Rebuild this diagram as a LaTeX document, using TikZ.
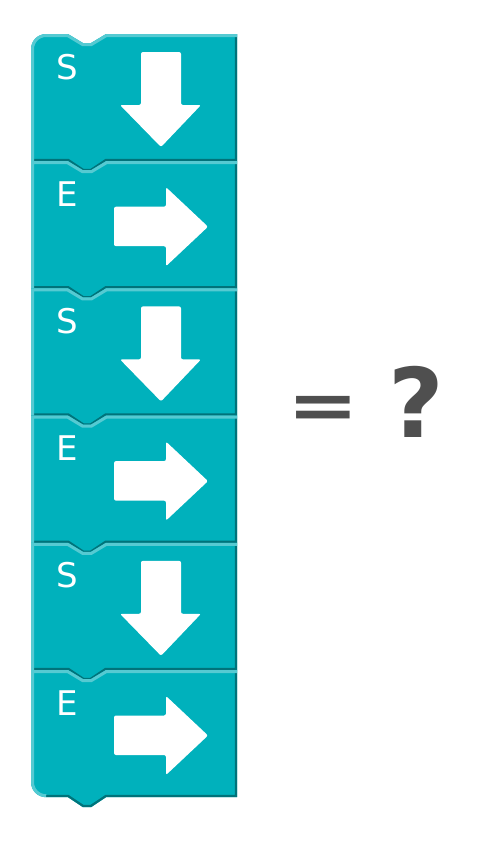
\documentclass[tikz,border=0pt]{standalone}
\usepackage{fontspec}
\setmainfont{DejaVu Sans}
\definecolor{blkfill}{HTML}{00B1BC}
\definecolor{blkhi}{HTML}{55CAD2}
\definecolor{blklo}{HTML}{00737A}
\definecolor{eqgray}{HTML}{4F4F4F}
\tikzset{
  letter/.style={text=white, inner sep=0pt, anchor=base, font=\fontsize{34}{34}\selectfont},
  arrowshape/.style={fill=white, rounded corners=2pt},
  sign/.style={text=eqgray, inner sep=0pt},
}
\begin{document}
\begin{tikzpicture}[x=1pt,y=-1pt]
\useasboundingbox (0,0) rectangle (500,844);
\foreach \k/\ltr/\dir/\rt/\rb in {0/S/d/15/0, 1/E/r/0/0, 2/S/d/0/0, 3/E/r/0/0, 4/S/d/0/0, 5/E/r/0/15}{
  \pgfmathsetmacro\T{34+127.2*\k}
  \pgfmathsetmacro\B{\T+127.2}
  \begin{scope}
    \clip (31,\T+\rt) .. controls (31,\T+0.45*\rt) and (31+0.45*\rt,\T) .. (31+\rt,\T)
      -- (68,\T) -- (83,\T+9) -- (91,\T+9) -- (106,\T) -- (237,\T) -- (237,\B)
      -- (106,\B) -- (91,\B+10) -- (83,\B+10) -- (68,\B) -- (31+\rb,\B)
      .. controls (31+0.45*\rb,\B) and (31,\B-0.45*\rb) .. (31,\B-\rb) -- cycle;
    \fill[blkfill] (0,\T-20) rectangle (500,\B+20);
    \draw[blklo, line width=4.5pt] (237,\T) -- (237,\B) -- (106,\B) -- (91,\B+10) -- (83,\B+10) -- (68,\B) -- (31+\rb,\B);
    \draw[blkhi, line width=6pt] (31+\rb,\B) .. controls (31+0.45*\rb,\B) and (31,\B-0.45*\rb) .. (31,\B-\rb)
      -- (31,\T+\rt) .. controls (31,\T+0.45*\rt) and (31+0.45*\rt,\T) .. (31+\rt,\T)
      -- (68,\T) -- (83,\T+9) -- (91,\T+9) -- (106,\T) -- (240,\T);
  \end{scope}
  \node[letter] (L\k) at (67.5,\T+45) {\ltr};
  \if\dir d
    \fill[arrowshape] (141,\T+18) -- (181,\T+18) -- (181,\T+71) -- (201,\T+71) -- (161,\T+113) -- (120,\T+71) -- (141,\T+71) -- cycle;
  \else
    \fill[arrowshape] (114,\T+45.5) -- (166,\T+45.5) -- (166,\T+26) -- (208,\T+65.5) -- (166,\T+105) -- (166,\T+85) -- (114,\T+85) -- cycle;
  \fi
}
\node[sign, anchor=center, xscale=0.95, yscale=0.74, font=\bfseries\fontsize{90}{90}\selectfont] (eq) at (323,412) {=};
\node[sign, anchor=base, font=\bfseries\fontsize{96}{96}\selectfont] (q) at (416.5,437) {?};
\end{tikzpicture}
\end{document}
